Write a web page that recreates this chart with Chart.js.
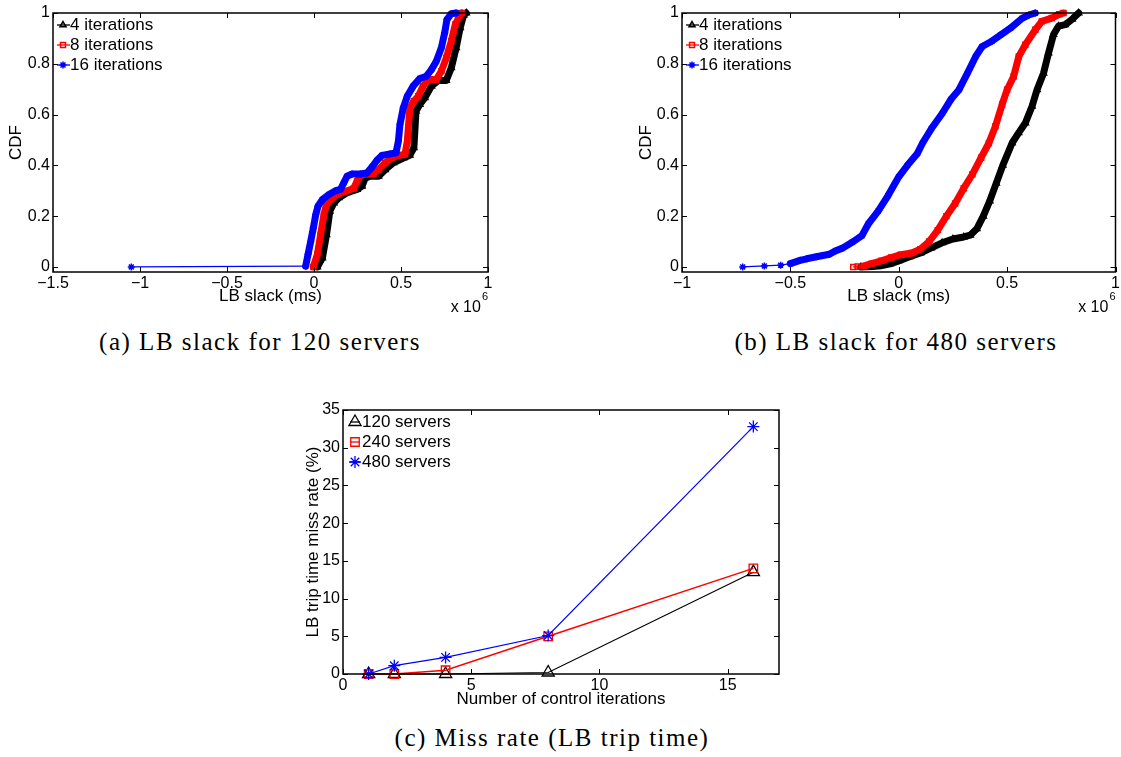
<!DOCTYPE html>
<html lang="en">
<head>
<meta charset="utf-8">
<title>LB slack CDF and miss rate</title>
<script src="https://cdn.jsdelivr.net/npm/chart.js@4/dist/chart.umd.min.js"></script>
<style>
  html, body { margin: 0; padding: 0; background: #ffffff; }
  body { position: relative; width: 1121px; height: 757px; overflow: hidden; }
  canvas { position: absolute; }
  .caption {
    position: absolute;
    font-family: "Liberation Serif", "Times New Roman", serif;
    font-size: 25px;
    letter-spacing: 1.5px;
    line-height: 26px;
    white-space: nowrap;
    transform: translateX(-50%);
    color: #000;
  }
</style>
</head>
<body>
<canvas id="chartA" width="560" height="320" style="left:0px; top:0px;"></canvas>
<canvas id="chartB" width="491" height="320" style="left:630px; top:0px;"></canvas>
<canvas id="chartC" width="500" height="320" style="left:290px; top:400px;"></canvas>
<div class="caption" style="left:260px; top:329px;">(a) LB slack for 120 servers</div>
<div class="caption" style="left:896px; top:329px;">(b) LB slack for 480 servers</div>
<div class="caption" style="left:552px; top:725px;">(c) Miss rate (LB trip time)</div>

<script>
// =============================================
//   LB slack CDFs + trip time miss rate
// =============================================

// ── Data ─────────────────────────────────────
// slack values are in units of 10^6 ms (multiplier drawn under the x axis)

// (a) 120 servers
const slackA4  = [0.019, 0.048, 0.072, 0.091, 0.114, 0.143, 0.19, 0.247, 0.276, 0.295, 0.323, 0.371, 0.409, 0.456,
                  0.513, 0.551, 0.574, 0.586, 0.608, 0.637, 0.675, 0.713, 0.76, 0.789, 0.817, 0.84, 0.859, 0.875];
const cdfA4    = [0, 0.035, 0.127, 0.219, 0.252, 0.272, 0.292, 0.305, 0.318, 0.351, 0.357, 0.357, 0.383, 0.41,
                  0.429, 0.44, 0.469, 0.613, 0.64, 0.666, 0.712, 0.734, 0.734, 0.784, 0.863, 0.942, 0.99, 1];

const slackA8  = [-0.004, 0.019, 0.038, 0.057, 0.072, 0.095, 0.133, 0.181, 0.228, 0.247, 0.266, 0.295, 0.342, 0.371,
                  0.409, 0.447, 0.485, 0.523, 0.536, 0.551, 0.574, 0.599, 0.627, 0.656, 0.703, 0.732, 0.76, 0.789,
                  0.812, 0.837, 0.85];
const cdfA8    = [0, 0.049, 0.127, 0.206, 0.246, 0.265, 0.285, 0.298, 0.309, 0.337, 0.361, 0.366, 0.366, 0.383,
                  0.41, 0.429, 0.44, 0.443, 0.495, 0.626, 0.653, 0.672, 0.712, 0.738, 0.738, 0.771, 0.823, 0.889,
                  0.955, 0.99, 1];

const slackA16 = [-1.05, -0.048, -0.034, -0.019, -0.004, 0.01, 0.023, 0.048, 0.086, 0.124, 0.152, 0.171, 0.19, 0.219,
                  0.266, 0.304, 0.333, 0.361, 0.39, 0.437, 0.471, 0.485, 0.494, 0.513, 0.536, 0.57, 0.608, 0.646,
                  0.675, 0.703, 0.732, 0.751, 0.764, 0.789, 0.817];
const cdfA16   = [0, 0.003, 0.05, 0.1, 0.153, 0.206, 0.239, 0.265, 0.285, 0.3, 0.305, 0.331, 0.357, 0.366,
                  0.366, 0.37, 0.393, 0.419, 0.439, 0.445, 0.449, 0.495, 0.561, 0.626, 0.672, 0.712, 0.742, 0.751,
                  0.777, 0.81, 0.863, 0.922, 0.974, 0.997, 1];

// (b) 480 servers
const slackB4  = [-0.175, -0.15, -0.12, -0.08, -0.04, 0, 0.05, 0.1, 0.15, 0.2, 0.25, 0.3, 0.33, 0.36, 0.39,
                  0.42, 0.45, 0.48, 0.523, 0.553, 0.584, 0.615, 0.638, 0.668, 0.691, 0.714, 0.737, 0.768, 0.8, 0.83];
const cdfB4    = [0, 0.001, 0.002, 0.005, 0.012, 0.024, 0.04, 0.055, 0.075, 0.095, 0.11, 0.118, 0.125, 0.15, 0.2,
                  0.26, 0.33, 0.4, 0.488, 0.528, 0.567, 0.633, 0.698, 0.763, 0.842, 0.915, 0.948, 0.954, 0.975, 1];

const slackB8  = [-0.21, -0.19, -0.16, -0.125, -0.08, -0.035, 0.01, 0.06, 0.1, 0.14, 0.18, 0.22, 0.26, 0.3,
                  0.34, 0.38, 0.416, 0.446, 0.477, 0.5, 0.53, 0.554, 0.584, 0.63, 0.66, 0.706, 0.74, 0.76];
const cdfB8    = [0, 0.002, 0.004, 0.013, 0.024, 0.037, 0.048, 0.055, 0.07, 0.1, 0.145, 0.2, 0.25, 0.31,
                  0.365, 0.43, 0.488, 0.554, 0.64, 0.698, 0.75, 0.829, 0.875, 0.934, 0.967, 0.98, 0.995, 1];

const slackB16 = [-0.72, -0.62, -0.545, -0.5, -0.455, -0.425, -0.38, -0.32, -0.29, -0.26, -0.215, -0.17, -0.14,
                  -0.095, -0.05, 0, 0.04, 0.086, 0.11, 0.151, 0.202, 0.24, 0.278, 0.317, 0.355, 0.385, 0.431,
                  0.469, 0.515, 0.569, 0.6, 0.63];
const cdfB16   = [0, 0.004, 0.007, 0.013, 0.026, 0.032, 0.04, 0.05, 0.064, 0.074, 0.097, 0.123, 0.17,
                  0.22, 0.28, 0.355, 0.4, 0.447, 0.488, 0.545, 0.606, 0.659, 0.698, 0.763, 0.829, 0.868, 0.89,
                  0.913, 0.94, 0.979, 0.992, 1];

// (c) miss rate (%) vs number of control iterations
const iterations = [1, 2, 4, 8, 16];
const miss120 = [0, 0, 0, 0.2, 13.5];
const miss240 = [0, 0, 0.5, 5, 14];
const miss480 = [0, 1.1, 2.2, 5.1, 32.8];

// tick labels
const slackTicksA = [-1.5, -1, -0.5, 0, 0.5, 1];
const slackTicksB = [-1, -0.5, 0, 0.5, 1];
const cdfTicks    = [0, 0.2, 0.4, 0.6, 0.8, 1];
const iterTicks   = [0, 5, 10, 15];
const missTicks   = [0, 5, 10, 15, 20, 25, 30, 35];

// ── Styling ──────────────────────────────────
const BLACK = '#000000';
const RED = '#ff0000';
const BLUE = '#0000ff';
const FONT = '"Liberation Sans", Arial, Helvetica, sans-serif';
const BAND = 7;   // width of the densely sampled part of a CDF curve

Chart.defaults.font.family = FONT;
Chart.defaults.color = '#000';

const minus = v => (v < 0 ? '\u2212' + Math.abs(v) : String(v));
const pairs = (xs, ys) => xs.map((x, i) => ({ x: x, y: ys[i] }));

// ── Box, inward ticks, legend and x10^n label ─
const matlabFrame = {
    id: 'matlabFrame',
    afterDraw(chart, args, opts) {
        const { ctx, chartArea: a } = chart;
        const sx = chart.scales.x, sy = chart.scales.y;
        const tl = 5;

        ctx.save();
        ctx.strokeStyle = '#000';
        ctx.lineWidth = 1;
        ctx.beginPath();
        sx.ticks.forEach(t => {
            const px = Math.round(sx.getPixelForValue(t.value)) + 0.5;
            ctx.moveTo(px, a.bottom); ctx.lineTo(px, a.bottom - tl);
            ctx.moveTo(px, a.top);    ctx.lineTo(px, a.top + tl);
        });
        sy.ticks.forEach(t => {
            const py = Math.round(sy.getPixelForValue(t.value)) + 0.5;
            ctx.moveTo(a.left, py);  ctx.lineTo(a.left + tl, py);
            ctx.moveTo(a.right, py); ctx.lineTo(a.right - tl, py);
        });
        ctx.stroke();

        ctx.lineWidth = 1.5;
        ctx.strokeRect(a.left, a.top, a.right - a.left, a.bottom - a.top);

        // legend, top-left inside the axes
        const lg = opts.legend;
        chart.data.datasets.forEach((ds, i) => {
            const y = a.top + lg.top + i * lg.gap;
            ctx.strokeStyle = ds.borderColor;
            ctx.lineWidth = lg.lineWidth;
            ctx.beginPath();
            ctx.moveTo(a.left + lg.lineFrom, y);
            ctx.lineTo(a.left + lg.lineTo, y);
            ctx.stroke();

            ctx.fillStyle = 'rgba(0,0,0,0)';
            ctx.lineWidth = ds.pointBorderWidth;
            Chart.helpers.drawPoint(ctx, {
                pointStyle: ds.pointStyle,
                radius: lg.radius || ds.pointRadius,
                rotation: 0,
                borderWidth: ds.pointBorderWidth
            }, a.left + lg.markX, y);

            ctx.fillStyle = '#000';
            ctx.font = '17px ' + FONT;
            ctx.textAlign = 'left';
            ctx.textBaseline = 'middle';
            ctx.fillText(ds.label, a.left + lg.textX, y);
        });

        // axis multiplier under the right end of the x axis
        if (opts.exponent) {
            ctx.fillStyle = '#000';
            ctx.textAlign = 'right';
            ctx.textBaseline = 'alphabetic';
            ctx.font = '11px ' + FONT;
            ctx.fillText(opts.exponent, a.right, a.bottom + 28);
            const w = ctx.measureText(opts.exponent).width;
            ctx.font = '16px ' + FONT;
            ctx.fillText('x 10', a.right - w - 1, a.bottom + 40);
        }
        ctx.restore();
    }
};

// ── Axis helpers ─────────────────────────────
function xAxis(min, max, ticks, title, height, titleGap) {
    return {
        type: 'linear', min: min, max: max,
        grid: { display: false, drawTicks: false },
        border: { display: false },
        ticks: { padding: 2, maxRotation: 0, autoSkip: false, font: { size: 16 }, callback: v => minus(v) },
        afterBuildTicks: s => { s.ticks = ticks.map(v => ({ value: v })); },
        afterFit: s => { s.height = height; s.paddingLeft = 0; s.paddingRight = 0; },
        title: { display: true, text: title, font: { size: 17, lineHeight: 1.2 }, padding: { top: 0, bottom: titleGap } }
    };
}

function yAxis(min, max, ticks, title, width, titleGap) {
    return {
        type: 'linear', min: min, max: max,
        grid: { display: false, drawTicks: false },
        border: { display: false },
        ticks: { padding: 3, autoSkip: false, font: { size: 16 }, callback: v => minus(v) },
        afterBuildTicks: s => { s.ticks = ticks.map(v => ({ value: v })); },
        afterFit: s => { s.width = width; s.paddingTop = 0; s.paddingBottom = 0; },
        title: { display: true, text: title, font: { size: 17, lineHeight: 1.2 }, padding: { top: titleGap, bottom: 0 } }
    };
}

function options(padding, scales, frame) {
    return {
        responsive: false,
        animation: false,
        events: [],
        layout: { padding: { top: padding.top, right: padding.right, left: 0, bottom: 0 } },
        plugins: { legend: { display: false }, tooltip: { enabled: false }, matlabFrame: frame },
        scales: scales
    };
}

// CDF curve: dense samples make a thick band, the first few sparse ones a thin line
function cdfSeries(label, xs, ys, color, style, order, thinLead) {
    return {
        label: label,
        order: order,
        data: pairs(xs, ys),
        borderColor: color,
        borderWidth: BAND,
        borderJoinStyle: 'round',
        borderCapStyle: 'round',
        pointStyle: style,
        pointRadius: 3.5,
        pointBorderWidth: 1.5,
        pointBorderColor: color,
        pointBackgroundColor: 'rgba(0,0,0,0)',
        tension: 0,
        clip: false,
        segment: { borderWidth: s => (s.p0DataIndex < thinLead ? 1.3 : BAND) }
    };
}

function missSeries(label, ys, color, style, radius, width, order) {
    return {
        label: label,
        order: order,
        data: pairs(iterations, ys),
        borderColor: color,
        borderWidth: width,
        pointStyle: style,
        pointRadius: radius,
        pointBorderWidth: 1.3,
        pointBorderColor: color,
        pointBackgroundColor: 'rgba(0,0,0,0)',
        tension: 0,
        clip: false
    };
}

const cdfLegend = { top: 12, gap: 20, lineFrom: 4, lineTo: 17, markX: 10, textX: 17, radius: 3.5, lineWidth: 1.3 };
const missLegend = { top: 12, gap: 20, lineFrom: 7, lineTo: 17, markX: 12, textX: 19, radius: 0, lineWidth: 1.3 };

// ── (a) LB slack, 120 servers ────────────────
new Chart(document.getElementById('chartA'), {
    type: 'line',
    data: { datasets: [
        cdfSeries('4 iterations', slackA4, cdfA4, BLACK, 'triangle', 3, 0),
        cdfSeries('8 iterations', slackA8, cdfA8, RED, 'rect', 2, 0),
        cdfSeries('16 iterations', slackA16, cdfA16, BLUE, 'star', 1, 1)
    ] },
    options: options({ top: 13, right: 72 }, {
        x: xAxis(-1.5, 1, slackTicksA, 'LB slack (ms)', 48, 13),
        y: yAxis(-0.02, 1, cdfTicks, 'CDF', 53, 6)
    }, { legend: cdfLegend, exponent: '6' }),
    plugins: [matlabFrame]
});

// ── (b) LB slack, 480 servers ────────────────
new Chart(document.getElementById('chartB'), {
    type: 'line',
    data: { datasets: [
        cdfSeries('4 iterations', slackB4, cdfB4, BLACK, 'triangle', 3, 0),
        cdfSeries('8 iterations', slackB8, cdfB8, RED, 'rect', 2, 2),
        cdfSeries('16 iterations', slackB16, cdfB16, BLUE, 'star', 1, 3)
    ] },
    options: options({ top: 13, right: 2 }, {
        x: xAxis(-1, 1, slackTicksB, 'LB slack (ms)', 48, 13),
        y: yAxis(-0.02, 1, cdfTicks, 'CDF', 52, 6)
    }, { legend: cdfLegend, exponent: '6' }),
    plugins: [matlabFrame]
});

// ── (c) Miss rate (LB trip time) ─────────────
new Chart(document.getElementById('chartC'), {
    type: 'line',
    data: { datasets: [
        missSeries('120 servers', miss120, BLACK, 'triangle', 7, 1.2, 3),
        missSeries('240 servers', miss240, RED, 'rect', 6, 1.5, 2),
        missSeries('480 servers', miss480, BLUE, 'star', 6, 1.2, 1)
    ] },
    options: options({ top: 10, right: 11 }, {
        x: xAxis(0, 17, iterTicks, 'Number of control iterations', 46, 10),
        y: yAxis(0, 35, missTicks, 'LB trip time miss rate (%)', 53, 13)
    }, { legend: missLegend }),
    plugins: [matlabFrame]
});
</script>
</body>
</html>
